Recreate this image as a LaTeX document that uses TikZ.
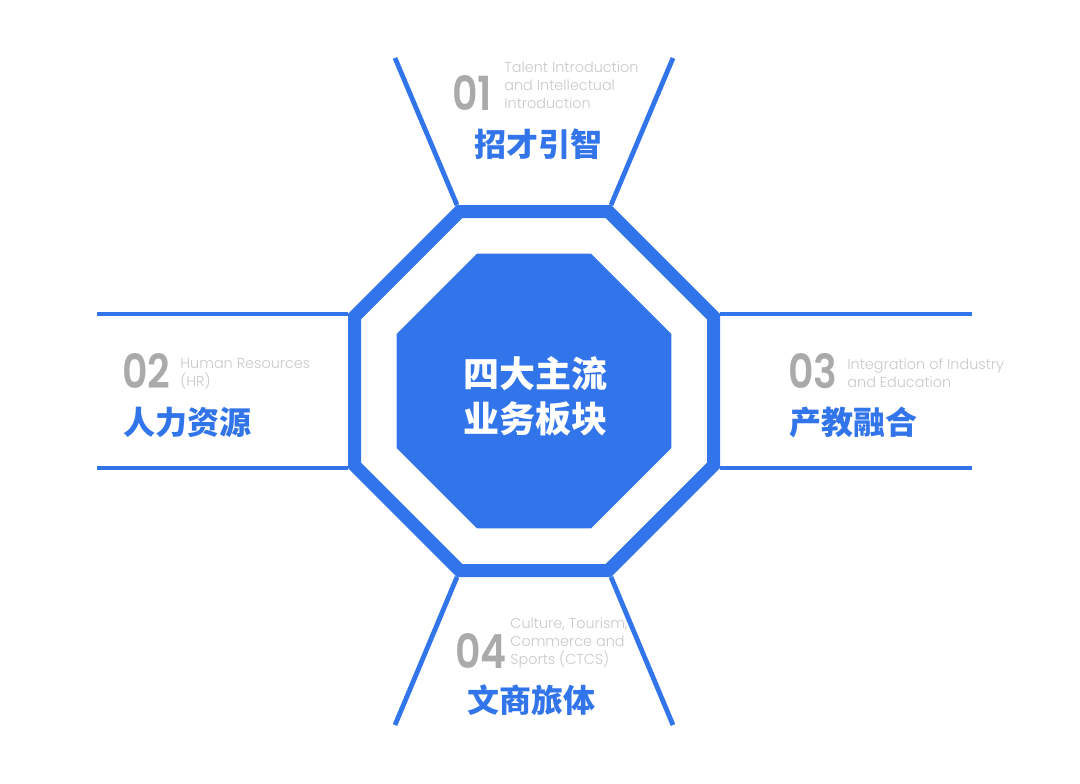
\documentclass[tikz,border=0pt]{standalone}
\usepackage{fontspec}
\setmainfont{Poppins}
\newfontfamily\thinfont{Poppins Light}
\newfontfamily\numfont{Poppins SemiBold}[FakeStretch=0.84]
\newfontfamily\cjk{Noto Sans CJK SC}
\usetikzlibrary{calc,shapes.geometric}
\definecolor{bizblue}{RGB}{50,117,234}
\definecolor{numgray}{RGB}{170,170,170}
\definecolor{engray}{RGB}{200,200,200}
\begin{document}
\begin{tikzpicture}[x=.5pt,y=-.5pt,
  ring/.style={draw=bizblue,line width=6.5pt,line join=miter},
  spoke/.style={draw=bizblue,line width=2.4pt},
  core/.style={regular polygon,regular polygon sides=8,minimum size=148.8pt,fill=bizblue,inner sep=0pt},
  title/.style={font=\cjk\bfseries\fontsize{18}{22.5}\selectfont,text=white,align=center,inner sep=0pt},
  num/.style={font=\numfont\fontsize{23.5}{23.5}\selectfont,text=numgray,inner sep=0pt,anchor=base west},
  en/.style={font=\thinfont\fontsize{7.2}{9}\selectfont,text=engray,align=left,inner sep=0pt,anchor=north west},
  zh/.style={font=\cjk\bfseries\fontsize{16}{16}\selectfont,text=bizblue,inner sep=0pt}]
\useasboundingbox(0,0)rectangle(1080,783);
\coordinate(O)at(534,391);
% spokes from the ring corners
\coordinate(NW)at(457,205);\coordinate(NE)at(611,205);\coordinate(WN)at(348,314);\coordinate(WS)at(348,468);\coordinate(EN)at(720,314);\coordinate(ES)at(720,468);\coordinate(SW)at(457,577);\coordinate(SE)at(611,577);
\coordinate(NW1)at(395,58);\coordinate(NE1)at(673,58);\coordinate(WN1)at(97,314);\coordinate(WS1)at(97,468);\coordinate(EN1)at(972,314);\coordinate(ES1)at(972,468);\coordinate(SW1)at(395,725);\coordinate(SE1)at(673,725);
\foreach\p in{NW,NE,WN,WS,EN,ES,SW,SE}{\draw[spoke](\p)--(\p1);}
% ring and core
\draw[ring]($(O)+(22.5:194.3)$)\foreach\k in{1,...,7}{--($(O)+(22.5+45*\k:194.3)$)}--cycle;
\node[core](core)at(O){};
\node[title](ttl)at(535,396){四大主流\\业务板块};
% the four blocks
\node[num](n1)at(452,110){01};\node[en](e1)at(504,61){Talent Introduction\\and Intellectual\\Introduction};\node[zh](z1)at(538,144){招才引智};
\node[num](n2)at(122,388){02};\node[en](e2)at(180,358){Human Resources\\(HR)};\node[zh](z2)at(187,422){人力资源};
\node[num](n3)at(788,388){03};\node[en](e3)at(847,358){Integration of Industry\\and Education};\node[zh](z3)at(853,422){产教融合};
\node[num](n4)at(455,668){04};\node[en](e4)at(510,617){Culture, Tourism,\\Commerce and\\Sports (CTCS)};\node[zh](z4)at(531,700){文商旅体};
\end{tikzpicture}
\end{document}
